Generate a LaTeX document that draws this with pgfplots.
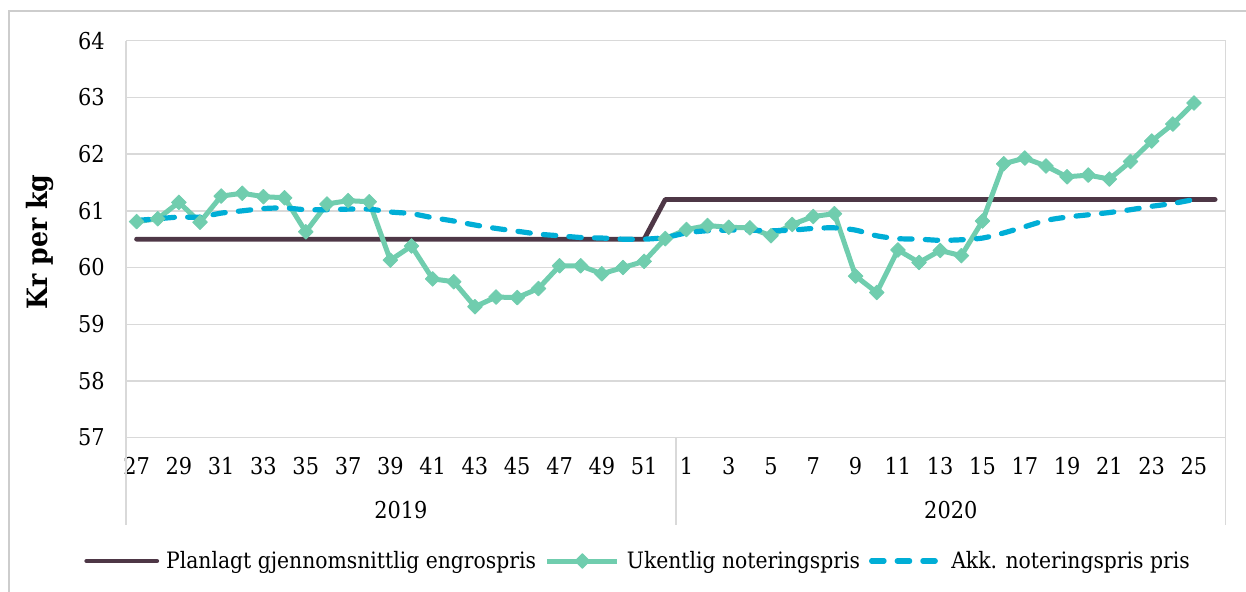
\documentclass[border=0pt]{standalone}
\usepackage{fontspec}
\setmainfont{DejaVu Serif Condensed}
\usepackage{pgfplots}
\pgfplotsset{compat=1.18}
\usepackage{pgfplotstable}
\definecolor{cDark}{RGB}{78,55,70}
\definecolor{cGreen}{RGB}{112,205,174}
\definecolor{cBlue}{RGB}{0,174,214}
\definecolor{cGrid}{RGB}{217,217,217}
\definecolor{cFrame}{RGB}{205,205,205}

% x = category index: 0..25 = weeks 27..52 (2019), 26..51 = weeks 1..26 (2020)
\pgfplotstableread{
x y
0 60.5
1 60.5
2 60.5
3 60.5
4 60.5
5 60.5
6 60.5
7 60.5
8 60.5
9 60.5
10 60.5
11 60.5
12 60.5
13 60.5
14 60.5
15 60.5
16 60.5
17 60.5
18 60.5
19 60.5
20 60.5
21 60.5
22 60.5
23 60.5
24 60.5
25 61.2
26 61.2
27 61.2
28 61.2
29 61.2
30 61.2
31 61.2
32 61.2
33 61.2
34 61.2
35 61.2
36 61.2
37 61.2
38 61.2
39 61.2
40 61.2
41 61.2
42 61.2
43 61.2
44 61.2
45 61.2
46 61.2
47 61.2
48 61.2
49 61.2
50 61.2
51 61.2
}\plantable

\pgfplotstableread{
x y
0 60.81
1 60.86
2 61.15
3 60.80
4 61.26
5 61.31
6 61.25
7 61.23
8 60.63
9 61.12
10 61.18
11 61.16
12 60.13
13 60.38
14 59.80
15 59.75
16 59.31
17 59.48
18 59.47
19 59.63
20 60.03
21 60.03
22 59.89
23 60.00
24 60.11
25 60.51
26 60.67
27 60.74
28 60.71
29 60.70
30 60.56
31 60.76
32 60.90
33 60.95
34 59.85
35 59.56
36 60.31
37 60.09
38 60.30
39 60.21
40 60.82
41 61.83
42 61.93
43 61.79
44 61.60
45 61.63
46 61.56
47 61.87
48 62.23
49 62.53
50 62.90
}\ukentable

\pgfplotstableread{
x y
0 60.83
1 60.86
2 60.89
3 60.89
4 60.96
5 61.00
6 61.04
7 61.05
8 61.02
9 61.02
10 61.03
11 61.03
12 60.98
13 60.95
14 60.88
15 60.82
16 60.75
17 60.69
18 60.64
19 60.59
20 60.56
21 60.53
22 60.52
23 60.50
24 60.50
25 60.53
26 60.61
27 60.65
28 60.66
29 60.66
30 60.65
31 60.66
32 60.69
33 60.70
34 60.66
35 60.56
36 60.51
37 60.50
38 60.48
39 60.49
40 60.52
41 60.61
42 60.72
43 60.83
44 60.89
45 60.93
46 60.97
47 61.02
48 61.08
49 61.13
50 61.20
}\akktable

\begin{document}
\begin{tikzpicture}
\useasboundingbox (0,0) rectangle (623pt,296pt);
\draw[cFrame, line width=0.6pt] (4.5pt,-1pt) -- (4.5pt,290.5pt) -- (624pt,290.5pt);
\begin{axis}[
  at={(63pt,77.15pt)}, anchor=south west,
  scale only axis, width=549.85pt, height=198.5pt,
  xmin=-0.5, xmax=51.5, ymin=57, ymax=64,
  ytick={57,58,...,64},
  xtick={0,2,...,50},
  xticklabels={27,29,31,33,35,37,39,41,43,45,47,49,51,1,3,5,7,9,11,13,15,17,19,21,23,25},
  axis line style={draw=none},
  major tick length=0pt,
  ymajorgrids, grid style={cGrid, line width=0.75pt},
  clip=false,
  font=\fontsize{11.6}{14}\selectfont,
  /pgf/number format/assume math mode=true,
  yticklabel style={anchor=east, inner sep=0pt, xshift=-10.5pt},
  xticklabel style={anchor=base, inner sep=0pt, yshift=-18.65pt},
  legend columns=3,
  legend style={at={(axis description cs:0.4647,-0.3106)}, anchor=center,
    draw=none, fill=none, font=\fontsize{11.3}{14}\selectfont,
    nodes={inner sep=0pt},
    /tikz/every odd column/.append style={column sep=3.5pt},
    /tikz/every even column/.append style={column sep=4.5pt}},
  legend image code/.code={\draw[mark repeat=2, mark phase=2, #1] plot coordinates {(0pt,0pt) (17.5pt,0pt) (35pt,0pt)};},
]
\draw[cGrid, line width=0.75pt] (axis cs:-0.5,64) -- ([yshift=-43.9pt]axis cs:-0.5,57);
\draw[cGrid, line width=0.75pt] (axis cs:25.5,57) -- ([yshift=-43.9pt]axis cs:25.5,57);
\draw[cGrid, line width=0.75pt] (axis cs:51.5,64) -- ([yshift=-43.9pt]axis cs:51.5,57);
\node[anchor=base, inner sep=0pt] at ([yshift=-40.65pt]axis cs:12.5,57) {2019};
\node[anchor=base, inner sep=0pt] at ([yshift=-40.65pt]axis cs:38.5,57) {2020};

\addplot[cDark, line width=2.4pt, line cap=round, line join=round] table[x=x,y=y] {\plantable};
\addlegendentry{Planlagt gjennomsnittlig engrospris}
\addplot[cGreen, line width=2.5pt, line join=round, mark=square*, mark size=2.6pt,
  mark options={rotate=45, solid, fill=cGreen, draw=cGreen, line width=0.4pt}] table[x=x,y=y] {\ukentable};
\addlegendentry{Ukentlig noteringspris}
\addplot[cBlue, line width=2.6pt, line cap=round, dash pattern=on 6.2pt off 6.6pt, smooth] table[x=x,y=y] {\akktable};
\addlegendentry{Akk. noteringspris pris}
\end{axis}
\node[rotate=90, anchor=base, inner sep=0pt, font=\bfseries\fontsize{14}{16}\selectfont] at (24pt,175pt) {Kr per kg};
\end{tikzpicture}
\end{document}
